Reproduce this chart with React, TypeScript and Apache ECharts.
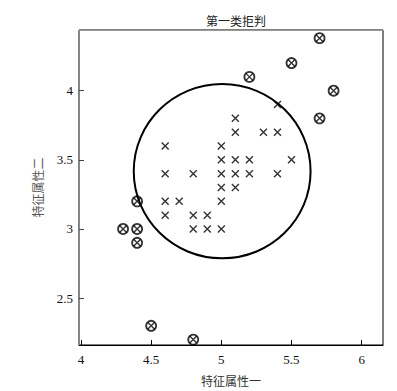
import React, { useEffect, useRef } from "react";
import * as echarts from "echarts";

// accepted samples (plotted with ×)
const acceptedX = [5.1, 5.1, 5.3, 5.4, 4.6, 5.0, 5.0, 5.1, 5.2, 5.5, 4.6, 4.8, 5.0, 5.1, 5.2, 5.4, 5.0, 5.1, 4.6, 4.7, 5.0, 4.6, 4.8, 4.9, 4.8, 4.9, 5.0, 5.4];
const acceptedY = [3.8, 3.7, 3.7, 3.7, 3.6, 3.6, 3.5, 3.5, 3.5, 3.5, 3.4, 3.4, 3.4, 3.4, 3.4, 3.4, 3.3, 3.3, 3.2, 3.2, 3.2, 3.1, 3.1, 3.1, 3.0, 3.0, 3.0, 3.9];
// rejected samples (plotted with ⊗)
const rejectedX = [4.3, 4.4, 4.4, 4.4, 4.5, 4.8, 5.2, 5.5, 5.7, 5.8, 5.7];
const rejectedY = [3.0, 3.0, 2.9, 3.2, 2.3, 2.2, 4.1, 4.2, 4.38, 4.0, 3.8];
// decision circle: center and radius
const circleCenter = [5.006, 3.418];
const circleRadius = 0.63;

const xTicks = [4, 4.5, 5, 5.5, 6];
const yTicks = [2.5, 3, 3.5, 4];

const titleText = "第一类拒判";
const xName = "特征属性一";
const yName = "特征属性二";

const CJK = '"Noto Sans CJK SC", sans-serif';
const SERIF = '"Liberation Serif", "DejaVu Serif", serif';

export default function App() {
  const ref = useRef<HTMLDivElement>(null);
  useEffect(() => {
    if (!ref.current) return;
    const chart = echarts.init(ref.current, undefined, { renderer: "svg" });
    const acc = acceptedX.map((x, i) => [x, acceptedY[i]]);
    const rej = rejectedX.map((x, i) => [x, rejectedY[i]]);
    chart.setOption({
      animation: false,
      backgroundColor: "#fff",
      title: {
        text: titleText,
        left: 231,
        textAlign: "center",
        top: 9,
        textStyle: { fontFamily: CJK, fontSize: 12, fontWeight: "normal", color: "#222" },
      },
      grid: {
        left: 79,
        top: 30,
        right: 14,
        bottom: 43,
        show: true,
        borderColor: "#000",
        borderWidth: 1,
        backgroundColor: "#fff",
      },
      xAxis: [
        {
          type: "value",
          min: 3.986,
          max: 6.152,
          name: xName,
          nameLocation: "middle",
          nameGap: 29,
          nameTextStyle: { fontFamily: CJK, fontSize: 12, color: "#333" },
          axisLine: { show: true, onZero: false, lineStyle: { color: "#000", width: 1 } },
          axisTick: { show: true, inside: true, length: 5, customValues: xTicks, lineStyle: { color: "#000" } },
          axisLabel: { customValues: xTicks, fontFamily: SERIF, fontSize: 13, color: "#111", margin: 8 },
          splitLine: { show: false },
        },
        {
          type: "value",
          position: "top",
          min: 3.986,
          max: 6.152,
          axisLine: { show: true, onZero: false, lineStyle: { color: "#999", width: 1 } },
          axisTick: { show: false },
          axisLabel: { show: false },
          splitLine: { show: false },
        },
      ],
      yAxis: {
        type: "value",
        min: 2.161,
        max: 4.439,
        name: yName,
        nameLocation: "middle",
        nameGap: 36,
        nameRotate: 90,
        nameTextStyle: { fontFamily: CJK, fontSize: 12, color: "#555" },
        axisLine: { show: true, onZero: false, lineStyle: { color: "#888", width: 1 } },
        axisTick: { show: true, inside: true, length: 5, customValues: yTicks, lineStyle: { color: "#444" } },
        axisLabel: { customValues: yTicks, fontFamily: SERIF, fontSize: 13, color: "#111", margin: 6 },
        splitLine: { show: false },
      },
      series: [
        {
          type: "custom",
          coordinateSystem: "cartesian2d",
          data: [[circleCenter[0], circleCenter[1], circleRadius]],
          encode: { x: 0, y: 1 },
          silent: true,
          z: 1,
          renderItem: (params: any, api: any) => {
            const c = api.coord([api.value(0), api.value(1)]);
            const s = api.size([api.value(2), api.value(2)], [api.value(0), api.value(1)]);
            return {
              type: "ellipse",
              shape: { cx: c[0], cy: c[1], rx: s[0], ry: s[1] },
              style: { fill: "none", stroke: "#000", lineWidth: 2 },
            };
          },
        },
        {
          type: "scatter",
          data: [...acc, ...rej],
          symbol: "path://M0,0L10,10M10,0L0,10",
          symbolSize: 7,
          itemStyle: { color: "transparent", borderColor: "#000", borderWidth: 1.4 },
          z: 3,
        },
        {
          type: "scatter",
          data: rej,
          symbol: "circle",
          symbolSize: 10,
          itemStyle: { color: "transparent", borderColor: "#000", borderWidth: 1.8 },
          z: 4,
        },
      ],
    });
    return () => chart.dispose();
  }, []);
  return <div ref={ref} style={{ width: 397, height: 391, position: "absolute", left: 0, top: 0 }} />;
}
